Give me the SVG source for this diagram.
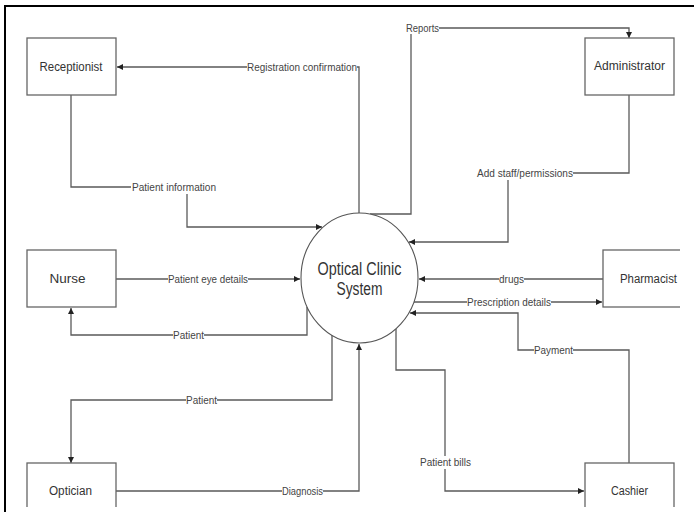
<svg xmlns="http://www.w3.org/2000/svg" width="694" height="516" viewBox="0 0 694 516">
  <defs>
    <marker id="arrow" markerUnits="userSpaceOnUse" markerWidth="7" markerHeight="6" refX="6" refY="3" orient="auto">
      <path d="M0,0 L6,3 L0,6 z" fill="#222"/>
    </marker>
    <clipPath id="page">
      <rect x="6" y="7" width="674" height="500"/>
    </clipPath>
  </defs>
  <style>
    .box { fill: #fff; stroke: #666; stroke-width: 1.3; }
    .proc { fill: #fff; stroke: #555; stroke-width: 1.1; }
    .flow { fill: none; stroke: #5a5a5a; stroke-width: 1.3; marker-end: url(#arrow); }
    .name { font-family: "Liberation Sans", Arial, sans-serif; font-size: 12.5px; fill: #333; text-anchor: middle; dominant-baseline: central; }
    .title { font-family: "Liberation Sans", Arial, sans-serif; font-size: 18px; fill: #333; text-anchor: middle; }
    .lbl { font-family: "Liberation Sans", Arial, sans-serif; font-size: 10.5px; fill: #444; text-anchor: middle; dominant-baseline: central; }
    .bg { fill: #fff; }
  </style>

  <rect x="0" y="0" width="694" height="516" fill="#fff"/>

  <g clip-path="url(#page)">
    <!-- data flows -->
    <g id="connectors">
      <path class="flow" d="M359,213 V67 H117"/>
      <path class="flow" d="M71,95 V187 H187 V227 H322"/>
      <path class="flow" d="M370,214 H411 V28 H629 V38"/>
      <path class="flow" d="M629,95 V173 H508 V242 H409"/>
      <path class="flow" d="M116,279 H300"/>
      <path class="flow" d="M307,307 V335 H71 V308"/>
      <path class="flow" d="M332,335 V400 H71 V463"/>
      <path class="flow" d="M116,491 H359 V344"/>
      <path class="flow" d="M603,279 H419"/>
      <path class="flow" d="M414,302 H602"/>
      <path class="flow" d="M629,463 V350 H518 V313 H410"/>
      <path class="flow" d="M396,329 V370 H445 V491 H584"/>

      <!-- flow labels -->
      <rect class="bg" x="247" y="61" width="110" height="12"/>
      <text class="lbl" x="302" y="67" textLength="110" lengthAdjust="spacingAndGlyphs">Registration confirmation</text>
      <rect class="bg" x="131" y="181" width="86" height="13"/>
      <text class="lbl" x="174" y="187" textLength="84" lengthAdjust="spacingAndGlyphs">Patient information</text>
      <rect class="bg" x="406" y="22" width="33" height="12"/>
      <text class="lbl" x="422.5" y="28" textLength="33" lengthAdjust="spacingAndGlyphs">Reports</text>
      <rect class="bg" x="477" y="167" width="96" height="13"/>
      <text class="lbl" x="525" y="173" textLength="96" lengthAdjust="spacingAndGlyphs">Add staff/permissions</text>
      <rect class="bg" x="168" y="273" width="80" height="12"/>
      <text class="lbl" x="208" y="279" textLength="80" lengthAdjust="spacingAndGlyphs">Patient eye details</text>
      <rect class="bg" x="173" y="329" width="31" height="12"/>
      <text class="lbl" x="188.5" y="335" textLength="31" lengthAdjust="spacingAndGlyphs">Patient</text>
      <rect class="bg" x="186" y="394" width="31" height="12"/>
      <text class="lbl" x="201.5" y="400" textLength="31" lengthAdjust="spacingAndGlyphs">Patient</text>
      <rect class="bg" x="282" y="485" width="41" height="12"/>
      <text class="lbl" x="302.5" y="491" textLength="41" lengthAdjust="spacingAndGlyphs">Diagnosis</text>
      <rect class="bg" x="499" y="273" width="25" height="12"/>
      <text class="lbl" x="511.5" y="279" textLength="25" lengthAdjust="spacingAndGlyphs">drugs</text>
      <rect class="bg" x="467" y="296" width="84" height="12"/>
      <text class="lbl" x="509" y="302" textLength="84" lengthAdjust="spacingAndGlyphs">Prescription details</text>
      <rect class="bg" x="534" y="344" width="39" height="12"/>
      <text class="lbl" x="553.5" y="350" textLength="39" lengthAdjust="spacingAndGlyphs">Payment</text>
      <rect class="bg" x="420" y="456" width="51" height="13"/>
      <text class="lbl" x="445.5" y="462" textLength="51" lengthAdjust="spacingAndGlyphs">Patient bills</text>
    </g>

    <!-- central process -->
    <g id="process">
      <ellipse class="proc" cx="359.5" cy="278" rx="58.5" ry="65"/>
      <text class="title" x="359.5" y="275" textLength="84" lengthAdjust="spacingAndGlyphs">Optical Clinic</text>
      <text class="title" x="359.5" y="295" textLength="46" lengthAdjust="spacingAndGlyphs">System</text>
    </g>

    <!-- external entities -->
    <g id="receptionist">
      <rect class="box" x="27" y="38" width="89" height="57"/>
      <text class="name" x="71" y="67" textLength="63" lengthAdjust="spacingAndGlyphs">Receptionist</text>
    </g>
    <g id="administrator">
      <rect class="box" x="585" y="38" width="89" height="57"/>
      <text class="name" x="629.5" y="66" textLength="71" lengthAdjust="spacingAndGlyphs">Administrator</text>
    </g>
    <g id="nurse">
      <rect class="box" x="27" y="250" width="89" height="57"/>
      <text class="name" x="67.5" y="279" textLength="36" lengthAdjust="spacingAndGlyphs">Nurse</text>
    </g>
    <g id="pharmacist">
      <rect class="box" x="603" y="250" width="89" height="57"/>
      <text class="name" x="648.5" y="279" textLength="57" lengthAdjust="spacingAndGlyphs">Pharmacist</text>
    </g>
    <g id="optician">
      <rect class="box" x="27" y="463" width="89" height="57"/>
      <text class="name" x="70.5" y="491" textLength="43" lengthAdjust="spacingAndGlyphs">Optician</text>
    </g>
    <g id="cashier">
      <rect class="box" x="585" y="463" width="89" height="57"/>
      <text class="name" x="629.5" y="491" textLength="37" lengthAdjust="spacingAndGlyphs">Cashier</text>
    </g>
  </g>

  <!-- page frame -->
  <path d="M5,512 V6 H694" fill="none" stroke="#000" stroke-width="2"/>
</svg>
